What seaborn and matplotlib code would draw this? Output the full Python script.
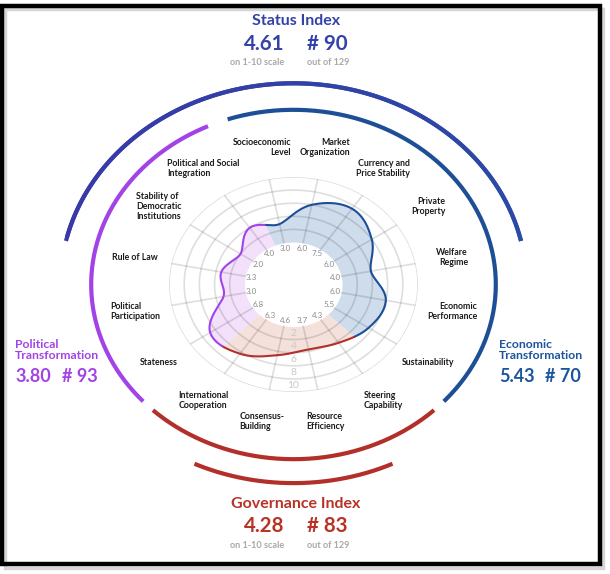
import numpy as np
import matplotlib
matplotlib.use("Agg")
import matplotlib.pyplot as plt
import seaborn as sns
from matplotlib.patches import Rectangle
from matplotlib.collections import LineCollection
from matplotlib.colors import to_rgb

sns.set_theme(style="white")
plt.rcParams["font.family"] = ["Lato", "DejaVu Sans"]

# ---------------- data ----------------
criteria = [
    "Market\nOrganization", "Currency and\nPrice Stability", "Private\nProperty",
    "Welfare\nRegime", "Economic\nPerformance", "Sustainability",
    "Steering\nCapability", "Resource\nEfficiency", "Consensus-\nBuilding",
    "International\nCooperation", "Stateness", "Political\nParticipation",
    "Rule of Law", "Stability of\nDemocratic\nInstitutions",
    "Political and Social\nIntegration", "Socioeconomic\nLevel",
]
scores = [6.0, 7.5, 6.0, 4.0, 6.0, 5.5, 4.3, 3.7, 4.6, 6.3, 6.8, 3.0, 3.3, 2.0, 4.0, 3.0]
groups = ["econ", "econ", "econ", "econ", "econ", "econ", "gov", "gov", "gov", "gov",
          "pol", "pol", "pol", "pol", "pol", "econ"]
ring_ticks = [2, 4, 6, 8, 10]

index_titles = ["Status Index", "Governance Index"]
index_scores = [4.61, 4.28]
index_ranks = [90, 83]
dim_titles = ["Political\nTransformation", "Economic\nTransformation"]
dim_scores = [3.80, 5.43]
dim_ranks = [93, 70]
n_countries = 129

# ---------------- style ----------------
C_STATUS_A, C_STATUS_B = "#3a37a8", "#2a4ba6"
C_ECON, C_POL, C_GOV = "#1c4f96", "#a143e6", "#b3302a"
F_ECON, F_POL, F_GOV = "#cfdcec", "#f3e0fa", "#f5e1dc"
line_col = {"econ": C_ECON, "pol": C_POL, "gov": C_GOV}
fill_col = {"econ": F_ECON, "pol": F_POL, "gov": F_GOV}

W, H = 610, 574
fig = plt.figure(figsize=(W / 100, H / 100), dpi=100)
fig.patch.set_facecolor("white")
fx = lambda x: x / W
fy = lambda y: 1 - y / H

ax = fig.add_axes([fx(169), fy(392), (418 - 169) / W, (392 - 177) / H], projection="polar")
ax.set_theta_zero_location("N")
ax.set_theta_direction(-1)
ax.set_ylim(0, 10)
ax.set_rorigin(-6.4)
ax.set_aspect("auto")
ax.set_axis_off()

n = len(scores)
step = 2 * np.pi / n
angles = np.array([step / 2 + i * step for i in range(n)])

# smooth closed curve through the scores (Catmull-Rom rendering)
K = 40
r_all = []
vals = np.array(scores)
for i in range(n):
    p0, p1, p2, p3 = vals[(i - 1) % n], vals[i], vals[(i + 1) % n], vals[(i + 2) % n]
    t = np.arange(K) / K
    r = 0.5 * (2 * p1 + (-p0 + p2) * t + (2 * p0 - 5 * p1 + 4 * p2 - p3) * t ** 2
               + (-p0 + 3 * p1 - 3 * p2 + p3) * t ** 3)
    r_all.append(r)
r_all = np.concatenate(r_all)

def group_span(g):
    idx = [i for i in range(n) if groups[i] == g]
    start = [i for i in idx if groups[(i - 1) % n] != g][0]
    return start, len(idx)

for g in ["econ", "gov", "pol"]:
    start, length = group_span(g)
    i0 = start * K - K // 2
    ii = np.arange(i0, i0 + length * K + 1)
    th = angles[0] + ii * step / K
    rr = r_all[ii % len(r_all)]
    ax.fill_between(th, 0, rr, color=fill_col[g], lw=0, zorder=2)
    ax.plot(th, rr, color=line_col[g], lw=1.5, zorder=5, solid_capstyle="round")

# grid
tt = np.linspace(0, 2 * np.pi, 400)
for rv in ring_ticks:
    ax.plot(tt, np.full_like(tt, rv), color="black", alpha=0.13, lw=1.2, zorder=3)
for a in angles:
    ax.plot([a, a], [0, 10], color="black", alpha=0.13, lw=1.2, zorder=3)

# ring labels along the bottom
for v in ring_ticks:
    ax.text(np.pi, v - 1, str(v), ha="center", va="center", fontsize=7.5,
            color="#c8c8c8", zorder=6)

# value labels in the hole
for a, v in zip(angles, scores):
    ax.text(a, -0.78, f"{v:.1f}", ha="center", va="center", fontsize=5.8,
            color="#8a8a8a", zorder=6)

# criteria labels
for a, lab in zip(angles, criteria):
    deg = np.degrees(a) % 360
    ma = "right" if (deg < 130 or deg > 340) else "left"
    ax.text(a, 14.9, lab, ha="center", va="center", fontsize=6.3, weight="bold",
            color="#1a1a1a", multialignment=ma, linespacing=1.15, clip_on=False)

# outer arcs
def arc(t0, t1, r, color, lw=3.0):
    t = np.radians(np.linspace(t0, t1, 200))
    ax.plot(t, np.full_like(t, r), color=color, lw=lw, clip_on=False,
            solid_capstyle="butt", zorder=4)

arc(228, 335, 20.25, C_POL)
arc(-19, 132, 20.25, C_ECON)
arc(136, 224, 20.25, C_GOV)
arc(154.5, 205.5, 23.9, C_GOV)

# status arc with a gentle gradient
t = np.radians(np.linspace(-77.5, 77.5, 120))
segs = [[(t[i], 24.3), (t[min(i + 2, len(t) - 1)], 24.3)] for i in range(len(t) - 1)]
ca, cb = np.array(to_rgb(C_STATUS_A)), np.array(to_rgb(C_STATUS_B))
cols = [ca + (cb - ca) * k / (len(segs) - 1) for k in range(len(segs))]
lc = LineCollection(segs, colors=cols, linewidths=3.0, transform=ax.transData,
                    clip_on=False, capstyle="butt", zorder=4)
ax.add_collection(lc)

# ---------------- headline texts ----------------
def index_block(yt, title, score, rank, color):
    fig.text(fx(296), fy(yt), title, ha="center", va="center", fontsize=11.5,
             weight="bold", color=color)
    fig.text(fx(284), fy(yt + 22.5), f"{score:.2f}", ha="right", va="center",
             fontsize=14.8, weight="bold", color=color)
    fig.text(fx(307), fy(yt + 22.5), f"# {rank}", ha="left", va="center",
             fontsize=14.8, weight="bold", color=color)
    fig.text(fx(284), fy(yt + 41.5), "on 1-10 scale", ha="right", va="center",
             fontsize=6.6, weight="bold", color="#a8a8a8")
    fig.text(fx(307), fy(yt + 41.5), f"out of {n_countries}", ha="left", va="center",
             fontsize=6.6, weight="bold", color="#a8a8a8")

index_block(21, index_titles[0], index_scores[0], index_ranks[0], "#3342a8")
index_block(504, index_titles[1], index_scores[1], index_ranks[1], "#b83226")

def dim_block(x, title, score, rank, color, dx):
    fig.text(fx(x), fy(350), title, ha="left", va="center", fontsize=8.8,
             weight="bold", color=color, linespacing=1.05)
    fig.text(fx(x), fy(376), f"{score:.2f}", ha="left", va="center", fontsize=13,
             weight="bold", color=color)
    fig.text(fx(x + dx), fy(376), f"# {rank}", ha="left", va="center", fontsize=13,
             weight="bold", color=color)

dim_block(15, dim_titles[0], dim_scores[0], dim_ranks[0], "#a443e4", 47)
dim_block(499, dim_titles[1], dim_scores[1], dim_ranks[1], "#1c559e", 46)

# screenshot frame
fig.add_artist(Rectangle((fx(4.5), fy(567.5)), fx(602.5) - fx(4.5), fy(8.5) - fy(567.5),
                         transform=fig.transFigure, fill=False, edgecolor="#d6d6d6", lw=2.5))
fig.add_artist(Rectangle((fx(2), fy(564)), fx(599.5) - fx(2), fy(5.5) - fy(564),
                         transform=fig.transFigure, fill=False, edgecolor="black", lw=3.2))

fig.savefig("out.png", dpi=100, facecolor="white")
